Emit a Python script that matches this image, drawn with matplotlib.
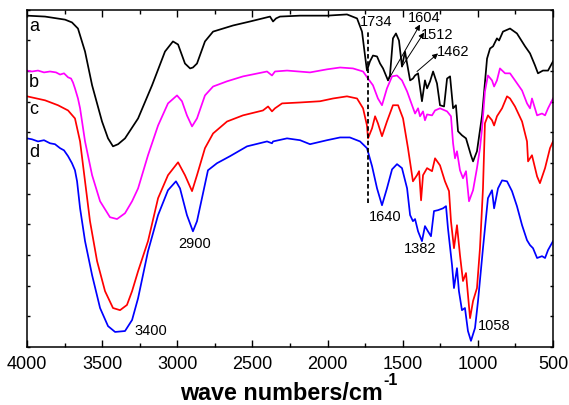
import numpy as np
import matplotlib
matplotlib.use("Agg")
import matplotlib.pyplot as plt
from matplotlib.ticker import MultipleLocator

plt.rcParams['font.family'] = ['Liberation Sans', 'DejaVu Sans']

# FTIR spectra, transmittance in arbitrary (offset) units
wn_a = [4000, 3880, 3747, 3701, 3661, 3614, 3567, 3501, 3461, 3428, 3394, 3348, 3261, 3168, 3082,
        3029, 2995, 2949, 2915, 2896, 2869, 2816, 2762, 2629, 2516, 2383, 2363, 2343, 2317, 2183,
        2004, 1871, 1804, 1771, 1751, 1738, 1718, 1698, 1671, 1651, 1631, 1598, 1585, 1565, 1545,
        1525, 1505, 1485, 1471, 1451, 1432, 1418, 1398, 1372, 1352, 1338, 1318, 1298, 1272, 1252,
        1225, 1205, 1185, 1165, 1146, 1132, 1106, 1079, 1046, 1032, 1006, 972, 939, 919, 899,
        873, 859, 833, 786, 740, 686, 653, 620, 600, 567, 533, 500]
t_a = [10.80, 10.77, 10.67, 10.58, 10.38, 9.63, 8.53, 7.35, 6.80, 6.54, 6.61, 6.80, 7.45, 8.53, 9.63,
       9.96, 9.86, 9.24, 9.08, 9.11, 9.24, 9.96, 10.28, 10.48, 10.61, 10.77, 10.61, 10.71, 10.77, 10.80,
       10.80, 10.84, 10.71, 10.28, 9.50, 9.01, 9.31, 9.50, 9.47, 9.24, 9.08, 8.69, 8.85, 10.06, 10.22,
       9.99, 9.14, 9.63, 9.24, 8.69, 8.75, 8.85, 8.92, 8.01, 8.69, 8.43, 8.66, 8.98, 8.59, 7.88,
       7.84, 8.75, 8.82, 7.78, 7.88, 7.03, 6.90, 6.80, 6.25, 6.05, 6.38, 7.55, 9.40, 9.73, 9.80,
       10.06, 9.99, 10.28, 10.38, 10.22, 9.80, 9.57, 9.18, 8.92, 9.01, 9.01, 9.31]

wn_b = [4000, 3967, 3927, 3887, 3847, 3807, 3780, 3754, 3727, 3707, 3694, 3681, 3661, 3647, 3614,
        3567, 3514, 3448, 3401, 3348, 3301, 3261, 3195, 3128, 3062, 3002, 2969, 2936, 2902, 2869,
        2816, 2762, 2669, 2563, 2403, 2370, 2350, 2270, 2117, 2004, 1917, 1831, 1764, 1731, 1698,
        1665, 1638, 1605, 1571, 1538, 1505, 1471, 1438, 1418, 1398, 1385, 1365, 1352, 1338, 1305,
        1285, 1252, 1205, 1179, 1165, 1152, 1139, 1119, 1099, 1079, 1059, 1032, 1006, 986, 972,
        953, 933, 906, 892, 873, 853, 819, 786, 753, 706, 673, 653, 640, 606, 573, 553, 533, 500]
t_b = [9.01, 8.98, 9.01, 8.95, 8.98, 8.95, 8.88, 8.92, 8.79, 8.75, 8.62, 8.43, 8.10, 7.78, 6.70,
       5.60, 4.75, 4.23, 4.17, 4.36, 4.75, 5.17, 6.25, 7.22, 7.94, 8.20, 8.01, 7.55, 7.19, 7.45,
       8.20, 8.49, 8.66, 8.82, 8.98, 8.85, 8.98, 9.01, 8.95, 9.05, 9.11, 9.08, 8.98, 8.75, 8.53,
       8.10, 7.88, 8.43, 8.82, 8.85, 8.69, 8.33, 7.88, 7.61, 7.78, 7.52, 7.68, 7.39, 7.58, 7.55,
       7.71, 7.78, 7.68, 7.52, 6.64, 6.15, 6.38, 5.76, 5.50, 5.73, 4.75, 5.11, 5.83, 6.48, 7.13,
       8.33, 8.85, 8.69, 8.49, 8.69, 9.08, 8.92, 8.92, 8.69, 8.36, 7.94, 7.78, 8.10, 7.55, 7.61, 7.55, 7.78, 8.10]

wn_c = [4000, 3880, 3794, 3727, 3681, 3647, 3614, 3581, 3534, 3481, 3428, 3381, 3335, 3301, 3261,
        3195, 3128, 3062, 2995, 2949, 2902, 2869, 2816, 2762, 2669, 2563, 2430, 2396, 2370, 2350,
        2303, 2183, 2050, 1964, 1871, 1804, 1764, 1738, 1731, 1704, 1684, 1665, 1638, 1605, 1565,
        1531, 1498, 1465, 1432, 1405, 1391, 1378, 1365, 1338, 1305, 1285, 1252, 1219, 1192, 1179,
        1159, 1139, 1119, 1099, 1079, 1052, 1032, 1006, 986, 966, 953, 933, 906, 892, 873,
        839, 806, 786, 753, 706, 673, 666, 640, 606, 587, 553, 520, 500]
t_c = [8.17, 8.04, 7.88, 7.71, 7.45, 6.70, 5.40, 4.10, 2.80, 1.82, 1.27, 1.20, 1.37, 1.82, 2.47,
       3.45, 4.85, 5.60, 6.02, 5.60, 5.08, 5.60, 6.48, 6.96, 7.35, 7.55, 7.71, 7.84, 7.68, 7.78,
       7.94, 7.97, 8.01, 8.10, 8.17, 8.10, 7.78, 7.22, 6.80, 7.13, 7.52, 7.29, 6.87, 7.35, 7.88,
       7.88, 7.45, 6.48, 5.40, 5.60, 5.73, 4.78, 5.60, 5.83, 5.73, 6.15, 5.92, 5.40, 5.08, 4.10,
       3.22, 3.97, 2.99, 2.15, 2.41, 0.94, 1.50, 1.92, 3.22, 5.17, 7.29, 7.55, 7.39, 7.22, 7.52,
       7.78, 8.17, 8.10, 7.84, 7.35, 6.70, 6.05, 6.25, 5.56, 5.34, 5.83, 6.48, 6.70]

wn_d = [4000, 3967, 3927, 3887, 3847, 3814, 3780, 3754, 3727, 3701, 3681, 3667, 3647, 3614, 3567,
        3514, 3461, 3414, 3348, 3301, 3261, 3195, 3128, 3062, 3009, 2982, 2936, 2896, 2869, 2836,
        2796, 2736, 2649, 2536, 2403, 2370, 2363, 2270, 2183, 2117, 2004, 1917, 1852, 1784, 1738,
        1704, 1671, 1638, 1605, 1571, 1538, 1505, 1471, 1451, 1432, 1418, 1398, 1372, 1352, 1332,
        1312, 1292, 1265, 1232, 1212, 1199, 1172, 1159, 1139, 1126, 1106, 1086, 1066, 1046, 1019,
        999, 966, 933, 906, 892, 866, 839, 806, 773, 740, 706, 673, 653, 633, 606, 573, 553, 533, 500]
t_d = [6.80, 6.77, 6.70, 6.74, 6.64, 6.61, 6.48, 6.41, 6.22, 5.99, 5.76, 5.40, 4.52, 3.45, 2.34,
       1.27, 0.68, 0.49, 0.52, 0.88, 1.59, 3.12, 4.30, 5.11, 5.40, 5.17, 4.30, 3.77, 4.10, 4.85,
       5.76, 5.99, 6.22, 6.54, 6.70, 6.64, 6.70, 6.80, 6.74, 6.61, 6.74, 6.83, 6.83, 6.70, 6.48,
       5.89, 5.17, 4.62, 5.17, 5.79, 5.96, 5.83, 5.17, 4.30, 4.10, 4.17, 3.77, 3.45, 3.94, 3.77,
       3.61, 4.43, 4.46, 4.52, 4.59, 3.87, 2.67, 1.92, 2.57, 1.82, 1.20, 1.27, 0.52, 0.20, 0.62,
       1.50, 3.22, 4.85, 5.11, 4.52, 5.17, 5.43, 5.40, 5.08, 4.59, 3.97, 3.48, 3.32, 3.22, 2.90, 2.96, 2.90, 3.16, 3.45]

sample_labels = ["a", "b", "c", "d"]
sample_label_y = [10.48, 8.66, 7.78, 6.38]
colors = ["black", "#ff00ff", "#ff0000", "#0000ff"]

# peak labels: (text, wavenumber, y)
peak_text = ["1734", "1640", "1382", "1058", "2900", "3400"]
peak_x = [1678, 1618, 1385, 893, 2882, 3175]
peak_y = [10.61, 4.26, 3.22, 0.72, 3.38, 0.55]

# arrows pointing at curve a
arrow_text = ["1604", "1512", "1462"]
arrow_tail_x = [1598, 1505, 1405]
arrow_tail_y = [8.69, 9.14, 8.98]
arrow_head_x = [1385, 1358, 1265]
arrow_head_y = [10.51, 10.25, 9.57]
arrow_text_x = [1358, 1272, 1165]
arrow_text_y = [10.77, 10.19, 9.66]

fig = plt.figure(figsize=(5.69, 4.06), dpi=100)
ax = fig.add_axes([0.0475, 0.1429, 0.9244, 0.8312])

for wn, t, c in zip([wn_a, wn_b, wn_c, wn_d], [t_a, t_b, t_c, t_d], colors):
    ax.plot(wn, t, color=c, lw=1.25)

for lab, y in zip(sample_labels, sample_label_y):
    ax.text(3985, y, lab, fontsize=13, ha="left", va="center")

ax.plot([1734, 1734], [4.69, 10.32], color="black", lw=1.3, ls=(0, (2.5, 1.5)))

for s, x, y in zip(peak_text, peak_x, peak_y):
    ax.text(x, y, s, fontsize=10.5, ha="center", va="center")

for s, tx, ty, hx, hy, lx, ly in zip(arrow_text, arrow_tail_x, arrow_tail_y, arrow_head_x,
                                      arrow_head_y, arrow_text_x, arrow_text_y):
    ax.annotate("", xy=(hx, hy), xytext=(tx, ty),
                arrowprops=dict(arrowstyle="-|>", lw=0.7, color="black", mutation_scale=8,
                                shrinkA=0, shrinkB=0))
    ax.text(lx, ly, s, fontsize=10.5, ha="center", va="center")

ax.set_xlim(4000, 500)
ax.set_ylim(0, 11)
ax.xaxis.set_major_locator(MultipleLocator(500))
ax.xaxis.set_minor_locator(MultipleLocator(250))
ax.yaxis.set_major_locator(MultipleLocator(1))
ax.set_yticklabels([])
ax.tick_params(axis="x", which="major", direction="in", length=5, width=1, top=True,
               labelsize=13, pad=6)
ax.tick_params(axis="x", which="minor", direction="in", length=3, width=1, top=True)
ax.tick_params(axis="y", which="major", direction="in", length=2.5, width=1, right=True, left=True)
for sp in ax.spines.values():
    sp.set_linewidth(1.1)

# x label with a plain "-1" superscript
xlab = fig.text(180 / 569, 6 / 406, "wave numbers/cm", fontsize=16.8, fontweight="bold",
                ha="left", va="baseline")
fig.canvas.draw()
bb = xlab.get_window_extent().transformed(fig.transFigure.inverted())
fig.text(bb.x1 + 1 / 569, 21 / 406, "-1", fontsize=11.5, fontweight="bold",
         ha="left", va="baseline")

fig.savefig("out.png", dpi=100)
